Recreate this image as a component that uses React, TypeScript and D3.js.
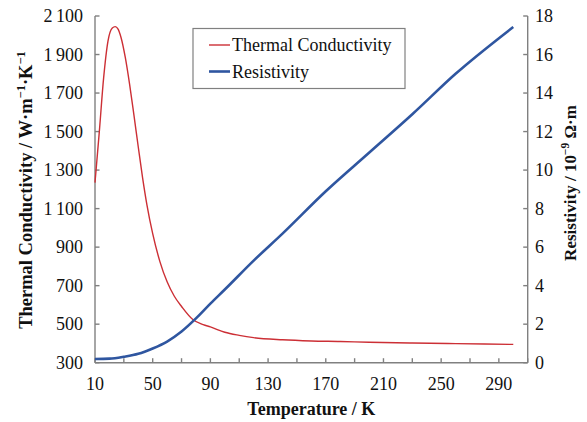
import React from 'react';
import * as d3 from 'd3';

// Thermal conductivity (W/m/K) vs temperature (K)
const kTemps = [10, 13, 16, 19, 22, 24, 26, 28, 31, 34, 37, 40, 43, 46, 50, 55, 60, 65, 70, 78, 85, 90, 100, 110, 120, 140, 160, 180, 200, 230, 260, 300];
const kValues = [1235, 1500, 1780, 1970, 2038, 2045, 2032, 1990, 1885, 1745, 1585, 1420, 1260, 1120, 970, 825, 720, 645, 592, 523, 498, 486, 458, 442, 430, 419, 413, 410, 406, 402, 399, 395];

// Resistivity (10^-9 Ohm m) vs temperature (K)
const rTemps = [10, 20, 30, 40, 50, 60, 70, 80, 90, 100, 120, 140, 170, 200, 230, 260, 300];
const rValues = [0.19, 0.21, 0.31, 0.46, 0.74, 1.1, 1.62, 2.3, 3.07, 3.8, 5.3, 6.7, 8.9, 10.9, 12.9, 15.0, 17.43];

const xTicks = d3.range(10, 311, 20);
const xLabels = [10, 50, 90, 130, 170, 210, 250, 290];
const leftTicks = d3.range(300, 2101, 200);
const rightTicks = d3.range(0, 19, 2);

const width = 587;
const height = 422;
const plot = { left: 95, right: 527.7, top: 16, bottom: 362.7 };
const font = '"Liberation Serif", "Times New Roman", serif';
const axisColor = '#808080';

const fmtLeft = (v: number) => (v >= 1000 ? `${Math.floor(v / 1000)}\u2009${String(v % 1000).padStart(3, '0')}` : String(v));

const App = () => {
  const x = d3.scaleLinear().domain([10, 310]).range([plot.left, plot.right]);
  const yL = d3.scaleLinear().domain([300, 2100]).range([plot.bottom, plot.top]);
  const yR = d3.scaleLinear().domain([0, 18]).range([plot.bottom, plot.top]);

  const kLine = d3
    .line<number>()
    .x((_, i) => x(kTemps[i]))
    .y((d) => yL(d))
    .curve(d3.curveMonotoneX);
  const rLine = d3
    .line<number>()
    .x((_, i) => x(rTemps[i]))
    .y((d) => yR(d))
    .curve(d3.curveMonotoneX);

  const tick = 4.5;

  return (
    <svg width={width} height={height} style={{ position: 'absolute', left: 0, top: 0, background: '#fff' }} fontFamily={font}>
      {/* axes */}
      <g stroke={axisColor} strokeWidth={1.4} fill="none">
        <line x1={plot.left} x2={plot.left} y1={plot.top} y2={plot.bottom} />
        <line x1={plot.right} x2={plot.right} y1={plot.top} y2={plot.bottom} />
        <line x1={plot.left} x2={plot.right} y1={plot.bottom} y2={plot.bottom} />
        {xTicks.map((t) => (
          <line key={'xt' + t} x1={x(t)} x2={x(t)} y1={plot.bottom} y2={plot.bottom - tick} />
        ))}
        {leftTicks.map((t) => (
          <line key={'lt' + t} x1={plot.left} x2={plot.left + tick} y1={yL(t)} y2={yL(t)} />
        ))}
        {rightTicks.map((t) => (
          <line key={'rt' + t} x1={plot.right} x2={plot.right - tick} y1={yR(t)} y2={yR(t)} />
        ))}
      </g>

      {/* tick labels */}
      <g fontSize={18} fill="#111">
        {xLabels.map((t) => (
          <text key={'xl' + t} x={x(t)} y={390} textAnchor="middle">
            {t}
          </text>
        ))}
        {leftTicks.map((t) => (
          <text key={'ll' + t} x={83} y={yL(t) + 6} textAnchor="end">
            {fmtLeft(t)}
          </text>
        ))}
        {rightTicks.map((t) => (
          <text key={'rl' + t} x={535} y={yR(t) + 6} textAnchor="start">
            {t}
          </text>
        ))}
      </g>

      {/* series */}
      <path d={kLine(kValues) || ''} fill="none" stroke="#cc2f35" strokeWidth={1.4} />
      <path d={rLine(rValues) || ''} fill="none" stroke="#2f56a0" strokeWidth={2.6} />

      {/* axis titles */}
      <g fontWeight="bold" fill="#111">
        <text x={(plot.left + plot.right) / 2} y={415} textAnchor="middle" fontSize={18}>
          Temperature / K
        </text>
        <text transform="translate(31.5, 190) rotate(-90)" textAnchor="middle" fontSize={18.5}>
          Thermal Conductivity / W·m
          <tspan fontSize={12.5} dy={-7}>−1</tspan>
          <tspan dy={7}>·K</tspan>
          <tspan fontSize={12.5} dy={-7}>−1</tspan>
        </text>
        <text transform="translate(576, 183) rotate(-90)" textAnchor="middle" fontSize={17}>
          Resistivity / 10
          <tspan fontSize={11.5} dy={-7}>−9</tspan>
          <tspan dy={7}> Ω·m</tspan>
        </text>
      </g>

      {/* legend */}
      <g>
        <rect x={193} y={28.5} width={212} height={60} fill="#fff" stroke={axisColor} strokeWidth={1.2} />
        <line x1={209} x2={230} y1={45} y2={45} stroke="#cc2f35" strokeWidth={1.4} />
        <line x1={209} x2={230} y1={71.5} y2={71.5} stroke="#2f56a0" strokeWidth={2.6} />
        <text x={232} y={51} fontSize={18} fill="#111">
          Thermal Conductivity
        </text>
        <text x={232} y={77.5} fontSize={18} fill="#111">
          Resistivity
        </text>
      </g>
    </svg>
  );
};

export default App;
